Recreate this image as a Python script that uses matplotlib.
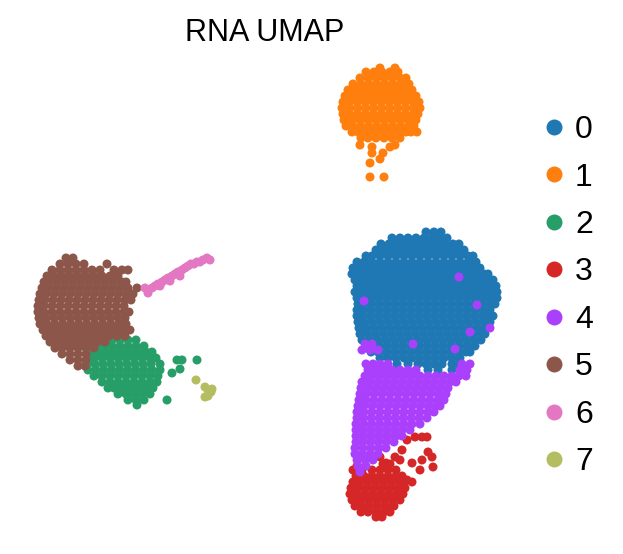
import numpy as np
import matplotlib
matplotlib.use('Agg')
import matplotlib.pyplot as plt
from matplotlib.lines import Line2D

plt.rcParams['font.family'] = ['Liberation Sans', 'DejaVu Sans']

# embedding, stored row by row as (UMAP2, [UMAP1 ...])
# UMAP2 is kept negative (top of the plot = less negative)
leiden = ['0', '1', '2', '3', '4', '5', '6', '7']
colors = ['#1f77b4', '#ff7f0e', '#279e68', '#d62728',
          '#aa40fc', '#8c564b', '#e377c2', '#b5bd61']

c0_rows = [
    (-232, [426, 434, 441]),
    (-238, [392, 400, 408, 416, 424, 432, 440, 447]),
    (-244, [381, 389, 397, 405, 413, 421, 429, 437, 445, 453, 459]),
    (-250, [376, 384, 392, 400, 408, 416, 424, 432, 440, 448, 456, 464]),
    (-256, [366, 372, 380, 388, 396, 404, 412, 420, 428, 436, 444, 452, 460, 468, 473]),
    (-262, [357, 364, 372, 380, 388, 396, 404, 412, 420, 428, 436, 444, 452, 460, 468, 476]),
    (-268, [353, 360, 368, 376, 384, 392, 400, 408, 416, 424, 432, 440, 448, 456, 464, 472, 480]),
    (-274, [352, 357, 364, 372, 380, 388, 396, 404, 412, 420, 428, 436, 444, 452, 460, 468, 476, 484, 488]),
    (-280, [355, 361, 369, 377, 385, 393, 401, 409, 417, 425, 433, 441, 449, 457, 465, 473, 481, 489, 493]),
    (-286, [357, 364, 372, 380, 388, 396, 404, 412, 420, 428, 436, 444, 452, 460, 468, 476, 484, 491, 496]),
    (-292, [355, 361, 369, 377, 385, 393, 401, 409, 417, 425, 433, 441, 449, 457, 465, 473, 481, 489, 497]),
    (-298, [357, 364, 372, 380, 388, 396, 404, 412, 420, 428, 436, 444, 452, 460, 468, 476, 484, 491, 497]),
    (-304, [358, 362, 370, 378, 386, 394, 402, 410, 418, 426, 434, 442, 450, 458, 466, 474, 482, 490, 495]),
    (-310, [357, 364, 372, 380, 388, 396, 404, 412, 420, 428, 436, 444, 452, 460, 468, 476, 484, 490]),
    (-316, [357, 362, 370, 378, 386, 394, 402, 410, 418, 426, 434, 442, 450, 458, 466, 474, 482, 489, 493]),
    (-322, [358, 364, 372, 380, 388, 396, 404, 412, 420, 428, 436, 444, 452, 460, 468, 476, 484, 490]),
    (-328, [359, 366, 374, 382, 390, 398, 406, 414, 422, 430, 438, 446, 454, 462, 470, 478, 486]),
    (-334, [360, 368, 376, 384, 392, 400, 408, 416, 424, 432, 440, 448, 456, 464, 472, 480, 485]),
    (-340, [362, 370, 378, 386, 394, 402, 410, 418, 426, 434, 442, 450, 458, 466, 474, 481]),
    (-346, [366, 372, 380, 388, 396, 404, 412, 420, 428, 436, 444, 452, 460, 468, 475]),
    (-352, [371, 378, 386, 394, 402, 410, 418, 426, 434, 442, 450, 458, 466, 470]),
    (-358, [380, 388, 396, 404, 412, 420, 428, 436, 444, 452, 460]),
    (-364, [397, 408, 418, 426, 434, 442, 452, 458]),
    (-370, [428, 438, 452]),
]

c1_rows = [
    (-68, [380, 395]),
    (-72, [366, 374, 382, 390, 398]),
    (-78, [360, 368, 376, 384, 392, 400, 406]),
    (-84, [353, 361, 369, 377, 385, 393, 401, 409]),
    (-90, [348, 356, 364, 372, 380, 388, 396, 404, 412]),
    (-96, [345, 352, 360, 368, 376, 384, 392, 400, 408, 416]),
    (-102, [343, 349, 357, 365, 373, 381, 389, 397, 405, 413, 419]),
    (-108, [342, 350, 358, 366, 374, 382, 390, 398, 406, 414, 420]),
    (-114, [343, 349, 357, 365, 373, 381, 389, 397, 405, 413, 418]),
    (-120, [344, 352, 360, 368, 376, 384, 392, 400, 408, 416]),
    (-126, [346, 353, 361, 369, 377, 385, 393, 401, 409, 414]),
    (-132, [352, 358, 366, 374, 382, 390, 398, 406, 411, 417]),
    (-138, [361, 368, 376, 384, 392, 400]),
    (-145, [360, 395]),
    (-147, [372, 390]),
    (-153, [372, 383]),
    (-159, [380]),
    (-163, [370]),
    (-177, [370, 384]),
]

c2_rows = [
    (-340, [105, 112, 120, 128, 136]),
    (-346, [96, 104, 112, 120, 128, 136, 144]),
    (-352, [91, 98, 106, 114, 122, 130, 138, 146, 152]),
    (-358, [88, 94, 102, 110, 118, 126, 134, 142, 150, 156]),
    (-360, [177, 182, 197]),
    (-364, [87, 95, 103, 111, 119, 127, 135, 143, 151, 160]),
    (-369, [180]),
    (-370, [88, 96, 104, 112, 120, 128, 136, 144, 152, 160]),
    (-373, [172]),
    (-376, [94, 102, 110, 118, 126, 134, 142, 150, 158]),
    (-382, [102, 110, 118, 126, 134, 142, 150, 157]),
    (-388, [108, 114, 122, 130, 138, 146, 153]),
    (-394, [118, 126, 134, 142, 150]),
    (-400, [128, 136, 144, 167]),
    (-405, [137]),
]

c3_rows = [
    (-437, [415, 422, 427]),
    (-440, [407]),
    (-450, [402]),
    (-452, [428]),
    (-457, [380, 395, 432]),
    (-460, [400, 422]),
    (-463, [386, 412]),
    (-464, [383, 390]),
    (-466, [357]),
    (-467, [433]),
    (-470, [353, 362, 372, 380, 388, 396, 420]),
    (-476, [356, 364, 372, 380, 388, 396, 402]),
    (-480, [407]),
    (-482, [353, 360, 368, 376, 384, 392, 400, 404, 412]),
    (-488, [351, 358, 366, 374, 382, 390, 398, 405]),
    (-494, [350, 356, 364, 372, 380, 388, 396, 403]),
    (-500, [352, 360, 368, 376, 384, 392, 400]),
    (-506, [355, 362, 370, 378, 386, 394]),
    (-512, [361, 368, 376, 384, 390]),
    (-517, [376, 382]),
]

c4_rows = [
    (-277, [459]),
    (-301, [364]),
    (-305, [477]),
    (-328, [490]),
    (-332, [470]),
    (-344, [365, 372, 413]),
    (-349, [455]),
    (-350, [362, 370, 378]),
    (-364, [366, 373, 380, 388, 462, 470]),
    (-370, [368, 376, 384, 392, 400, 408, 416, 460, 467]),
    (-376, [365, 372, 380, 388, 396, 404, 412, 420, 428, 436, 444, 452, 459, 466]),
    (-382, [362, 370, 378, 386, 394, 402, 410, 418, 426, 434, 442, 450, 456]),
    (-388, [361, 368, 376, 384, 392, 400, 408, 416, 424, 432, 440, 448]),
    (-394, [360, 366, 374, 382, 390, 398, 406, 414, 422, 430, 438, 446]),
    (-400, [359, 366, 374, 382, 390, 398, 406, 414, 422, 430, 438, 444]),
    (-406, [358, 364, 372, 380, 388, 396, 404, 412, 420, 428, 436, 440]),
    (-412, [357, 364, 372, 380, 388, 396, 404, 412, 420, 428, 434]),
    (-418, [357, 363, 371, 379, 387, 395, 403, 411, 419, 427]),
    (-424, [356, 364, 372, 380, 388, 396, 404, 412, 420]),
    (-430, [356, 362, 370, 378, 386, 394, 402, 410]),
    (-436, [356, 364, 372, 380, 388, 396, 402]),
    (-442, [356, 362, 370, 378, 386, 394]),
    (-448, [355, 363, 371, 379, 386]),
    (-454, [355, 362, 370, 378]),
    (-460, [357, 365, 373]),
    (-466, [358, 366]),
    (-472, [360]),
]

c5_rows = [
    (-258, [66, 73]),
    (-264, [60, 68, 76, 84, 107]),
    (-270, [52, 60, 68, 76, 84, 92, 100, 114, 122, 128]),
    (-276, [47, 54, 62, 70, 78, 86, 94, 102, 110, 118]),
    (-282, [44, 50, 58, 66, 74, 82, 90, 98, 106, 114, 122, 126]),
    (-288, [42, 48, 56, 64, 72, 80, 88, 96, 104, 112, 120, 128, 137]),
    (-294, [40, 46, 54, 62, 70, 78, 86, 94, 102, 110, 118, 126, 133]),
    (-300, [39, 45, 53, 61, 69, 77, 85, 93, 101, 109, 117, 125, 131]),
    (-306, [38, 44, 52, 60, 68, 76, 84, 92, 100, 108, 116, 124]),
    (-312, [38, 44, 52, 60, 68, 76, 84, 92, 100, 108, 116, 124, 129]),
    (-318, [39, 46, 54, 62, 70, 78, 86, 94, 102, 110, 118, 125]),
    (-324, [40, 47, 55, 63, 71, 79, 87, 95, 103, 111, 119, 126]),
    (-330, [43, 50, 58, 66, 74, 82, 90, 98, 106, 114, 122, 130]),
    (-336, [46, 53, 61, 69, 77, 85, 93, 101, 109, 117, 125]),
    (-342, [50, 57, 65, 73, 81, 89, 97, 105]),
    (-348, [55, 62, 70, 78, 86, 94]),
    (-354, [62, 70, 78, 86]),
    (-360, [70, 78, 86]),
    (-366, [78, 85]),
]

c6_rows = [
    (-258, [207]),
    (-260, [203, 210]),
    (-262, [197, 200]),
    (-264, [191, 194]),
    (-266, [188]),
    (-268, [185]),
    (-270, [182]),
    (-272, [178]),
    (-274, [175]),
    (-276, [172, 180]),
    (-278, [168]),
    (-280, [165]),
    (-281, [170]),
    (-282, [162]),
    (-284, [158]),
    (-286, [155, 160]),
    (-288, [145, 152]),
    (-293, [148]),
]

c7_rows = [
    (-380, [196]),
    (-387, [205]),
    (-389, [212]),
    (-390, [208]),
    (-392, [211]),
    (-396, [208]),
    (-397, [205]),
]

all_rows = [c0_rows, c1_rows, c2_rows, c3_rows, c4_rows, c5_rows, c6_rows, c7_rows]

fig = plt.figure(figsize=(6.23, 5.54), dpi=100)
ax = fig.add_axes([20 / 623, 24 / 554, 490 / 623, 480 / 554])

for k, rows in enumerate(all_rows):
    xs = []
    ys = []
    for y, row in rows:
        for x in row:
            xs.append(x)
            ys.append(y)
    ax.scatter(xs, ys, s=42, c=colors[k], edgecolors='none', label=leiden[k])

ax.set_xlim(20, 510)
ax.set_ylim(-530, -50)
ax.set_xticks([])
ax.set_yticks([])
for sp in ax.spines.values():
    sp.set_visible(False)

ax.set_title('RNA UMAP', fontsize=22, pad=6.5)

handles = [Line2D([], [], marker='o', linestyle='', markersize=11.5,
                  markerfacecolor=c, markeredgecolor='none') for c in colors]
ax.legend(handles, leiden, loc='upper left', bbox_to_anchor=(545.7 / 623, 0.792),
          bbox_transform=fig.transFigure, frameon=False, fontsize=23,
          handlelength=0.52, handletextpad=0.4, labelspacing=0.545,
          borderpad=0, borderaxespad=0)

fig.savefig('out.png', dpi=100)
